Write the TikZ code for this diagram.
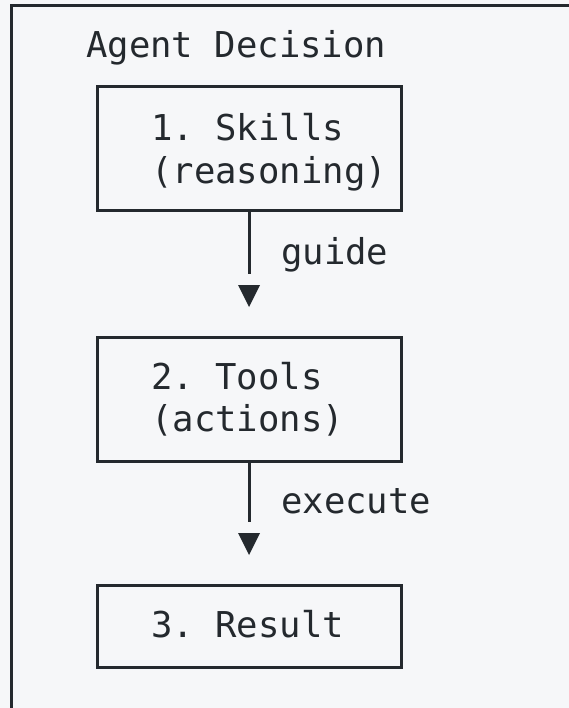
\documentclass[tikz,border=0pt]{standalone}
\usepackage{fontspec}
\setmonofont{DejaVu Sans Mono}
\definecolor{paper}{HTML}{F6F7F9}
\definecolor{ink}{HTML}{24292E}
\tikzset{
  frame/.style={draw=ink, line width=3pt},
  stagebox/.style={draw=ink, line width=3pt, minimum width=304pt, inner sep=0pt},
  label/.style={anchor=base west, inner sep=0pt, text=ink,
    font=\ttfamily\fontsize{35.6}{43}\selectfont},
  stem/.style={draw=ink, line width=3pt},
  tip/.style={fill=ink}
}
\begin{document}
\begin{tikzpicture}[x=1pt, y=-1pt]
  \fill[paper] (0,0) rectangle (569,708);
  \useasboundingbox (0,0) rectangle (569,708);

  % outer frame, open to the right and bottom
  \draw[frame] (11,712) -- (11,6) -- (573,6);
  \node[label] (title) at (86,58) {Agent Decision};

  % stage boxes
  \node[stagebox, minimum height=124pt] (skills) at (249,149) {};
  \node[stagebox, minimum height=124pt] (tools)  at (249,399) {};
  \node[stagebox, minimum height=82pt]  (result) at (249,626) {};

  \node[label] (skillsA) at (151,141) {1. Skills};
  \node[label] (skillsB) at (151,184) {(reasoning)};
  \node[label] (toolsA)  at (151,389) {2. Tools};
  \node[label] (toolsB)  at (151,431) {(actions)};
  \node[label] (resultA) at (151,637) {3. Result};

  % connectors: stem, gap, solid triangle head
  \coordinate (stem1) at (249,274);
  \draw[stem] (skills.south) -- (stem1);
  \fill[tip] (238,285) -- (260,285) -- (249,307) -- cycle;
  \node[label] (guide) at (281,265) {guide};

  \coordinate (stem2) at (249,522);
  \draw[stem] (tools.south) -- (stem2);
  \fill[tip] (238,533) -- (260,533) -- (249,555) -- cycle;
  \node[label] (execute) at (281,513) {execute};
\end{tikzpicture}
\end{document}
